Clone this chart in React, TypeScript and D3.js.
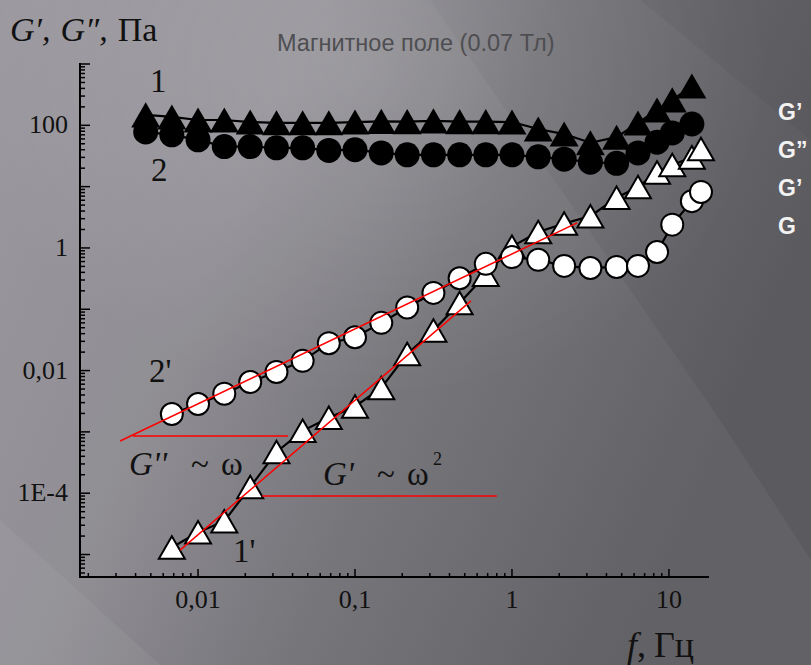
import React from 'react';
import * as d3 from 'd3';

const W = 811;
const H = 665;

// Frequencies (Hz) for the filled-symbol runs (curves 1 and 2)
const freqFilled = [
  0.00464, 0.00681, 0.01, 0.0147, 0.0215, 0.0316, 0.0464, 0.0681, 0.1, 0.147,
  0.215, 0.316, 0.464, 0.681, 1, 1.47, 2.15, 3.16, 4.64, 6.35, 8.4, 10.5, 14,
];
// Curve 1: G' (filled triangles), Pa
const gStorageFilled = [
  148, 137, 122, 122, 113, 110, 110, 110, 113, 116, 115, 118, 115, 115, 113,
  87, 72, 52, 64, 109, 178, 260, 437,
];
// Curve 2: G'' (filled circles), Pa
const gLossFilled = [
  78, 70, 58, 45, 45, 43, 43, 39, 40, 35.5, 33, 33, 33, 33, 33, 30.6, 28, 25,
  24, 35.5, 53, 75, 105,
];

// Frequencies (Hz) for the open-symbol runs (curves 1' and 2')
const freqOpen = [
  0.00681, 0.01, 0.0147, 0.0215, 0.0316, 0.0464, 0.0681, 0.1, 0.147, 0.215,
  0.316, 0.464, 0.681, 1, 1.47, 2.15, 3.16, 4.64, 6.35, 8.4, 10.5, 14, 16,
];
// Curve 1': G' (open triangles), Pa
const gStorageOpen = [
  1.3e-5, 2.3e-5, 3.5e-5, 1.26e-4, 4.7e-4, 1.04e-3, 1.7e-3, 2.6e-3, 5.2e-3,
  0.0187, 0.045, 0.127, 0.365, 1.05, 1.82, 2.5, 3.3, 6.6, 9.9, 17, 22.6, 30, 41,
];
// Curve 2': G'' (open circles), Pa
const gLossOpen = [
  1.96e-3, 2.85e-3, 4.2e-3, 6.5e-3, 9.5e-3, 0.0144, 0.028, 0.035, 0.06, 0.107,
  0.185, 0.32, 0.55, 0.71, 0.64, 0.51, 0.47, 0.49, 0.51, 0.86, 2.4, 5.8, 8.2,
];

// Power-law guide lines (frequency, modulus)
const fitLossFreq = [0.00319, 2.6];
const fitLossVal = [7.1e-4, 2.56];
const guideLossFreq = [0.00385, 0.0374];
const guideLossVal = 8.6e-4;
const fitStorageFreq = [0.00768, 0.548];
const fitStorageVal = [1.18e-5, 0.137];
const guideStorageFreq = [0.0256, 0.8];
const guideStorageVal = 9e-5;

// Axis ticks
const xTickValues = [0.01, 0.1, 1, 10];
const xTickLabels = ['0,01', '0,1', '1', '10'];
const yTickValues = [100, 1, 0.01, 1e-4];
const yTickLabels = ['100', '1', '0,01', '1E-4'];

const legendLabels = ['G\u2019', 'G\u201D', 'G\u2019', 'G'];

const SERIF = '"Liberation Serif", "Times New Roman", serif';
const SANS = '"Liberation Sans", Arial, sans-serif';

const x = d3.scaleLog().domain([0.00177, 18]).range([80, 709]);
const y = d3.scaleLog().domain([4.3e-6, 1000]).range([577, 64]);

const line = d3
  .line<[number, number]>()
  .x((d) => x(d[0]))
  .y((d) => y(d[1]));

const zip = (fs: number[], vs: number[]): [number, number][] =>
  fs.map((f, i) => [f, vs[i]]);

function trianglePath(cx: number, cy: number, side: number) {
  const h = side * 0.866;
  return `M${cx},${cy - h / 2}L${cx + side / 2},${cy + h / 2}L${cx - side / 2},${cy + h / 2}Z`;
}

function logTicks(lo: number, hi: number) {
  const out: { v: number; major: boolean }[] = [];
  for (let e = -7; e <= 4; e++) {
    for (let k = 1; k <= 9; k++) {
      const v = k * Math.pow(10, e);
      if (v >= lo * 0.999 && v <= hi * 1.001) out.push({ v, major: k === 1 });
    }
  }
  return out;
}

function Series({
  fs,
  vs,
  shape,
  filled,
}: {
  fs: number[];
  vs: number[];
  shape: 'tri' | 'circle';
  filled: boolean;
}) {
  const pts = zip(fs, vs);
  return (
    <g>
      <path d={line(pts) || ''} fill="none" stroke="#000" strokeWidth={2.2} />
      {pts.map(([f, v], i) =>
        shape === 'tri' ? (
          <path
            key={i}
            d={trianglePath(x(f), y(v), filled ? 29 : 26)}
            fill={filled ? '#000' : '#fff'}
            stroke="#000"
            strokeWidth={filled ? 0 : 2}
          />
        ) : (
          <circle
            key={i}
            cx={x(f)}
            cy={y(v)}
            r={filled ? 12.5 : 11}
            fill={filled ? '#000' : '#fff'}
            stroke="#000"
            strokeWidth={filled ? 0 : 2}
          />
        )
      )}
    </g>
  );
}

export default function App() {
  const [x0, x1] = x.range();
  const [yBottom, yTop] = y.range();
  const yTicks = logTicks(y.domain()[0], y.domain()[1]);
  const xTicks = logTicks(x.domain()[0], x.domain()[1]);

  return (
    <svg
      width={W}
      height={H}
      viewBox={`0 0 ${W} ${H}`}
      style={{ position: 'absolute', left: 0, top: 0, display: 'block' }}
    >
      <defs>
        <linearGradient id="bg" x1="0" y1="0" x2="1" y2="0.35">
          <stop offset="0" stopColor="#97959b" />
          <stop offset="0.35" stopColor="#8c8a90" />
          <stop offset="0.62" stopColor="#717075" />
          <stop offset="1" stopColor="#5b5a5f" />
        </linearGradient>
        <radialGradient id="glow" cx="0.45" cy="0.1" r="0.5">
          <stop offset="0" stopColor="#ffffff" stopOpacity="0.15" />
          <stop offset="1" stopColor="#ffffff" stopOpacity="0" />
        </radialGradient>
      </defs>
      <rect x={0} y={0} width={W} height={H} fill="url(#bg)" />
      <rect x={0} y={0} width={W} height={H} fill="url(#glow)" />
      {/* soft diagonal streaks */}
      <polygon points="0,0 430,0 720,420 811,560 811,665 0,665" fill="#ffffff" opacity={0.045} />
      <polygon points="0,520 0,665 160,665" fill="#ffffff" opacity={0.05} />
      <polygon points="640,0 811,0 811,140" fill="#000000" opacity={0.04} />

      {/* Title and axis captions */}
      <text x={10} y={41} fontFamily={SERIF} fontSize={34} fill="#111">
        <tspan fontStyle="italic">G{'\u2032'},</tspan>
        <tspan fontStyle="italic" dx={10}>G{'\u2033'},</tspan>
        <tspan dx={10}>Па</tspan>
      </text>
      <text x={277} y={51} fontFamily={SANS} fontSize={23.5} fill="#4e4e52">
        Магнитное поле (0.07 Тл)
      </text>
      <text x={627} y={657} fontFamily={SERIF} fontSize={36} fill="#111">
        <tspan fontStyle="italic">f</tspan>,<tspan dx={8}>Гц</tspan>
      </text>

      {/* Axes */}
      <line x1={x0} x2={x0} y1={yTop - 1} y2={yBottom + 1} stroke="#000" strokeWidth={2} />
      <line x1={x0 - 1} x2={x1} y1={yBottom} y2={yBottom} stroke="#000" strokeWidth={2} />
      {yTicks.map((t, i) => (
        <line
          key={`yt${i}`}
          x1={x0}
          x2={x0 + (t.major ? 10 : 5)}
          y1={y(t.v)}
          y2={y(t.v)}
          stroke="#000"
          strokeWidth={1.5}
        />
      ))}
      {xTicks.map((t, i) => (
        <line
          key={`xt${i}`}
          x1={x(t.v)}
          x2={x(t.v)}
          y1={yBottom}
          y2={yBottom - (t.major ? 8 : 4)}
          stroke="#000"
          strokeWidth={1.5}
        />
      ))}
      {yTickValues.map((v, i) => (
        <text
          key={`yl${i}`}
          x={68}
          y={y(v) + 8}
          textAnchor="end"
          fontFamily={SERIF}
          fontSize={26}
          fill="#111"
        >
          {yTickLabels[i]}
        </text>
      ))}
      {xTickValues.map((v, i) => (
        <text
          key={`xl${i}`}
          x={x(v)}
          y={608}
          textAnchor="middle"
          fontFamily={SERIF}
          fontSize={26}
          fill="#111"
        >
          {xTickLabels[i]}
        </text>
      ))}

      {/* Data */}
      <Series fs={freqFilled} vs={gStorageFilled} shape="tri" filled />
      <Series fs={freqFilled} vs={gLossFilled} shape="circle" filled />
      <Series fs={freqOpen} vs={gStorageOpen} shape="tri" filled={false} />
      <Series fs={freqOpen} vs={gLossOpen} shape="circle" filled={false} />

      {/* Power-law guides */}
      <g stroke="#ff0000" strokeWidth={1.5} fill="none">
        <line x1={x(fitLossFreq[0])} y1={y(fitLossVal[0])} x2={x(fitLossFreq[1])} y2={y(fitLossVal[1])} />
        <line x1={x(guideLossFreq[0])} y1={y(guideLossVal)} x2={x(guideLossFreq[1])} y2={y(guideLossVal)} />
        <line x1={x(fitStorageFreq[0])} y1={y(fitStorageVal[0])} x2={x(fitStorageFreq[1])} y2={y(fitStorageVal[1])} />
        <line x1={x(guideStorageFreq[0])} y1={y(guideStorageVal)} x2={x(guideStorageFreq[1])} y2={y(guideStorageVal)} />
      </g>

      {/* Curve labels */}
      <g fontFamily={SERIF} fontSize={33} fill="#111">
        <text x={150} y={92}>1</text>
        <text x={151} y={181}>2</text>
        <text x={149} y={382}>2'</text>
        <text x={233} y={562}>1'</text>
        <text x={129} y={475} fontStyle="italic">G''</text>
        <text x={191} y={475}>~</text>
        <text x={221} y={475}>ω</text>
        <text x={323} y={485} fontStyle="italic">G'</text>
        <text x={377} y={485}>~</text>
        <text x={407} y={485}>ω</text>
        <text x={433} y={465} fontSize={18}>2</text>
      </g>

      {/* Side legend */}
      {legendLabels.map((t, i) => (
        <text
          key={`lg${i}`}
          x={778}
          y={120 + i * 38}
          fontFamily={SANS}
          fontWeight="bold"
          fontSize={23}
          fill="#f2f2f2"
        >
          {t}
        </text>
      ))}
    </svg>
  );
}
